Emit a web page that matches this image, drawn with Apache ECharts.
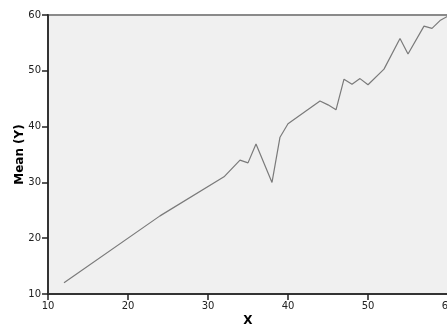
<!DOCTYPE html>
<html><head><meta charset="utf-8">
<script src="https://cdn.jsdelivr.net/npm/echarts@6/dist/echarts.min.js"></script>
<style>html,body{margin:0;padding:0;background:#fff}#c{width:447px;height:324px}</style>
</head><body><div id="c"></div>
<script>
const xValues = [12, 24, 32, 34, 35, 36, 38, 39, 40, 44, 45, 46, 47, 48, 49, 50, 52, 54, 55, 57, 58, 59, 60];
const meanY  = [12, 24, 31, 34, 33.5, 36.9, 30, 38.1, 40.5, 44.6, 43.9, 43, 48.5, 47.6, 48.6, 47.5, 50.3, 55.8, 53, 58, 57.6, 59, 59.8];
const xTicks = [10, 20, 30, 40, 50, 60];
const yTicks = [10, 20, 30, 40, 50, 60];

const chart = echarts.init(document.getElementById('c'), null, {renderer: 'canvas'});
const font = 'DejaVu Sans, Verdana, sans-serif';
const tick = {show: true, inside: false, length: 6, lineStyle: {color: '#222', width: 1.5}};
const xBase = {type: 'value', min: xTicks[0], max: xTicks[xTicks.length - 1], interval: 10, position: 'bottom', splitLine: {show: false}};
const yBase = {type: 'value', min: yTicks[0], max: yTicks[yTicks.length - 1], interval: 10, position: 'left', splitLine: {show: false}};
chart.setOption({
  animation: false,
  grid: {left: 48, top: 15, right: -1, bottom: 30, show: true, backgroundColor: '#f0f0f0', borderColor: '#8a8a8a', borderWidth: 2, containLabel: false, outerBoundsMode: 'none'},
  xAxis: [
    Object.assign({}, xBase, {
      name: 'X', nameLocation: 'middle', nameGap: 27, nameMoveOverlap: false,
      nameTextStyle: {fontFamily: font, fontSize: 12, fontWeight: 'bold', color: '#000', verticalAlign: 'middle'},
      axisLine: {show: true, onZero: false, lineStyle: {color: '#333', width: 2}},
      axisTick: tick,
      axisLabel: {fontFamily: font, fontSize: 10, color: '#222', margin: 7, showMaxLabel: true}
    }),
    Object.assign({}, xBase, {
      axisLine: {show: false, onZero: false},
      axisTick: tick,
      axisLabel: {show: false}
    })
  ],
  yAxis: [
    Object.assign({}, yBase, {
      name: 'Mean (Y)', nameLocation: 'middle', nameGap: 22, nameMoveOverlap: false,
      nameTextStyle: {fontFamily: font, fontSize: 12, fontWeight: 'bold', color: '#000'},
      axisLine: {show: true, onZero: false, lineStyle: {color: '#333', width: 2}},
      axisTick: tick,
      axisLabel: {fontFamily: font, fontSize: 10, color: '#222', margin: 7}
    }),
    Object.assign({}, yBase, {
      axisLine: {show: false, onZero: false},
      axisTick: tick,
      axisLabel: {show: false}
    })
  ],
  series: [{
    type: 'line',
    xAxisIndex: 0, yAxisIndex: 0,
    data: xValues.map((x, i) => [x, meanY[i]]),
    showSymbol: false,
    lineStyle: {color: '#7a7a7a', width: 1.2},
    clip: false
  }]
});
</script></body></html>
